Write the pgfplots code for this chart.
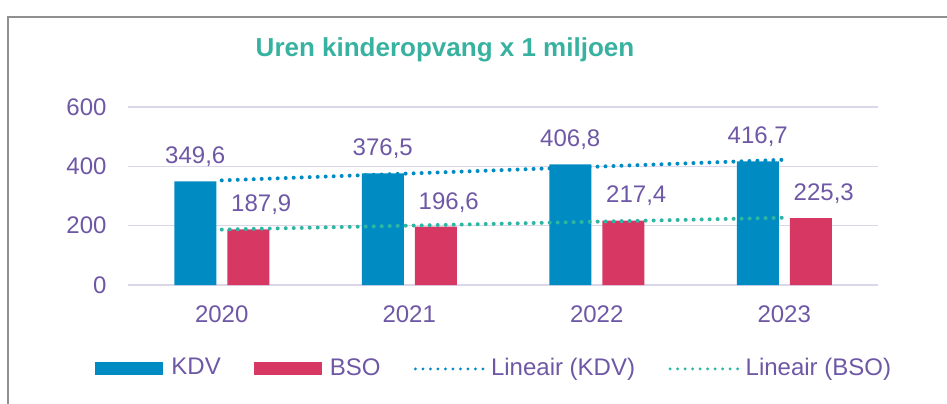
\documentclass[border=0pt]{standalone}
\usepackage{pgfplots}
\pgfplotsset{compat=1.18}
\usepackage{fontspec}
\setmainfont{Liberation Sans}
\definecolor{kdv}{HTML}{008CC3}
\definecolor{bso}{HTML}{D63763}
\definecolor{bsotrend}{HTML}{2DB6A3}
\definecolor{titleteal}{HTML}{38B2A0}
\definecolor{txt}{HTML}{6E58A5}
\definecolor{gridc}{HTML}{DCD6EA}
\definecolor{framegray}{HTML}{8F8F8F}
\newcommand{\lab}{\fontsize{24bp}{28bp}\selectfont}
\tikzset{trend/.style={line width=4bp, dash pattern=on 0pt off 8bp, line cap=round}}
\begin{document}
\begin{tikzpicture}
\useasboundingbox (0bp,0bp) rectangle (947bp,404bp);
\draw[framegray, line width=1.5bp] (8bp,0bp) -- (8bp,387bp) -- (947bp,387bp);
\node[font=\fontsize{26bp}{30bp}\selectfont\bfseries, text=titleteal] at (445bp,354bp) {Uren kinderopvang x 1 miljoen};
\begin{axis}[
  at={(128bp,119bp)}, anchor=south west,
  scale only axis, width=750bp, height=178bp,
  xmin=0.5, xmax=4.5, ymin=0, ymax=600,
  xtick={1,2,3,4}, xticklabels={2020,2021,2022,2023},
  ytick={0,200,400,600},
  axis line style={draw=none},
  major tick length=0pt,
  ymajorgrids, grid style={draw=gridc, line width=1.5bp},
  tick label style={font=\lab, text=txt},
  yticklabel style={xshift=-18bp},
  xticklabel style={yshift=-17bp},
  /pgf/number format/assume math mode=true,
  clip=false,
  legend columns=4,
  legend cell align=left,
  legend style={at={(0.487,-0.463)}, anchor=center, draw=none, fill=none,
    font=\lab, text=txt, nodes={inner sep=0pt},
    /tikz/every odd column/.append style={column sep=6bp},
    /tikz/every even column/.append style={column sep=33bp}},
  every node near coord/.append style={font=\lab, text=txt},
]
\addplot[ybar, bar width=42bp, bar shift=-26.5bp, fill=kdv, draw=none,
  nodes near coords={\pgfmathprintnumber[fixed,fixed zerofill,precision=1,use comma]{\pgfplotspointmeta}},
  every node near coord/.append style={yshift=11bp, xshift=-26.5bp},
  legend image code/.code={\path[draw=none, fill=none] (0bp,-10bp) rectangle (70bp,10bp);
    \fill[kdv] (0bp,-8bp) rectangle (68bp,5bp);}]
  coordinates {(1,349.6) (2,376.5) (3,406.8) (4,416.7)};
\addlegendentry{KDV}
\addplot[ybar, bar width=42bp, bar shift=26.5bp, fill=bso, draw=none,
  nodes near coords={\pgfmathprintnumber[fixed,fixed zerofill,precision=1,use comma]{\pgfplotspointmeta}},
  every node near coord/.append style={yshift=11bp, xshift=39.5bp},
  legend image code/.code={\path[draw=none, fill=none] (0bp,-10bp) rectangle (70bp,10bp);
    \fill[bso] (0bp,-8bp) rectangle (68bp,5bp);}]
  coordinates {(1,187.9) (2,196.6) (3,217.4) (4,225.3)};
\addlegendentry{BSO}
\addplot[kdv, trend,
  legend image code/.code={\path[draw=none, fill=none] (0bp,-10bp) rectangle (70bp,10bp);
    \draw[kdv, trend, line width=3.2bp, dash pattern=on 0pt off 7.5bp] (2bp,-1.5bp) -- (70bp,-1.5bp);}]
  coordinates {(1,352.66) (4,422.14)};
\addlegendentry{Lineair (KDV)}
\addplot[bsotrend, trend,
  legend image code/.code={\path[draw=none, fill=none] (0bp,-10bp) rectangle (70bp,10bp);
    \draw[bsotrend, trend, line width=3.2bp, dash pattern=on 0pt off 7.5bp] (2bp,-1.5bp) -- (70bp,-1.5bp);}]
  coordinates {(1,186.85) (4,226.75)};
\addlegendentry{Lineair (BSO)}
\end{axis}
\end{tikzpicture}
\end{document}
